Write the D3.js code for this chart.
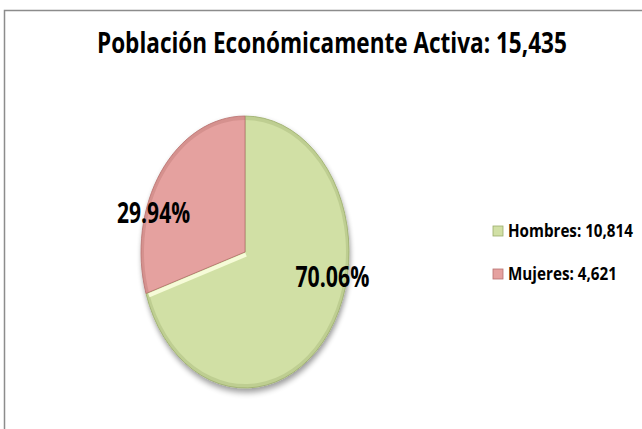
<!DOCTYPE html>
<html>
<head>
<meta charset="utf-8">
<script src="https://cdn.jsdelivr.net/npm/d3@7"></script>
<style>
  body { margin: 0; background: #fff; }
  svg { display: block; font-family: "Open Sans", "Liberation Sans", sans-serif; }
</style>
</head>
<body>
<div id="chart"></div>
<script>
const w = 642;
const h = 429;

const categories = ["Hombres", "Mujeres"];
const values = [10814, 4621];
const colors = ["#d1e0a5", "#e5a19f"];
const edgeColors = ["#9cad6c", "#b77270"];
const titleText = "Población Económicamente Activa";

const total = d3.sum(values);
const fmt = d3.format(",");
const pctFmt = d3.format(".2%");

// pie geometry (drawn as a circle, then stretched into the ellipse of the picture)
const cx = 245, cy = 252;
const r = 104;
const sy = 136 / 104;

let svg = d3.select("#chart").append("svg")
    .attr("width", w)
    .attr("height", h);

// the reference font is narrow, so squeeze each text to its width in the picture
function squeeze(node, x, y, width) {
    let sx = Math.min(1, width / node.getComputedTextLength());
    d3.select(node)
        .attr("x", 0).attr("y", 0)
        .attr("transform", `translate(${x},${y}) scale(${sx},1)`);
}

let defs = svg.append("defs");

let shadow = defs.append("filter")
    .attr("id", "shadow")
    .attr("x", "-20%").attr("y", "-20%")
    .attr("width", "140%").attr("height", "140%");
shadow.append("feGaussianBlur").attr("in", "SourceAlpha").attr("stdDeviation", 2.5).attr("result", "blur");
shadow.append("feOffset").attr("in", "blur").attr("dx", 1).attr("dy", 3).attr("result", "off");
shadow.append("feComponentTransfer").attr("in", "off").attr("result", "soft")
    .append("feFuncA").attr("type", "linear").attr("slope", 0.4);
let merge = shadow.append("feMerge");
merge.append("feMergeNode").attr("in", "soft");
merge.append("feMergeNode").attr("in", "SourceGraphic");

// chart border (only top and left visible in the picture)
svg.append("path")
    .attr("d", `M4.5,${h} V10.5 H${w}`)
    .attr("fill", "none")
    .attr("stroke", "#8c8c8c")
    .attr("stroke-width", 1.5);

let title = svg.append("text")
    .attr("font-size", 29)
    .attr("font-weight", 700)
    .attr("fill", "#000")
    .text(titleText + ": " + fmt(total));
squeeze(title.node(), 97, 53, 470);

let pie = d3.pie().sort(null).value(d => d);
let arcs = pie(values);

let arc = d3.arc().innerRadius(0).outerRadius(r);
let rim = d3.arc().innerRadius(r - 3).outerRadius(r);
let labelArc = d3.arc().innerRadius(r * 0.6).outerRadius(r * 0.6);

let pieG = svg.append("g")
    .attr("transform", `translate(${cx},${cy}) scale(1,${sy})`)
    .attr("filter", "url(#shadow)");

pieG.selectAll("path.slice")
    .data(arcs)
    .join("path")
    .attr("class", "slice")
    .attr("d", arc)
    .attr("fill", (d, i) => colors[i])
    .attr("stroke", (d, i) => edgeColors[i])
    .attr("stroke-width", 0.8)
    .attr("vector-effect", "non-scaling-stroke");

// soft bevel: darker rim along the outer edge
pieG.selectAll("path.rim")
    .data(arcs)
    .join("path")
    .attr("class", "rim")
    .attr("d", rim)
    .attr("fill", (d, i) => edgeColors[i])
    .attr("opacity", 0.35);

// light highlight along the green edge that meets the pink slice
let a = arcs[0].endAngle;
pieG.append("line")
    .attr("x1", 0).attr("y1", 0)
    .attr("x2", Math.sin(a) * (r - 2))
    .attr("y2", -Math.cos(a) * (r - 2))
    .attr("stroke", "#f6fbd8")
    .attr("stroke-width", 4)
    .attr("vector-effect", "non-scaling-stroke")
    .attr("transform", "translate(1,2)");

const labelNudge = [[37, -23], [-41, 9]];
const labelLength = [74, 73];

svg.selectAll("text.pct")
    .data(arcs)
    .join("text")
    .attr("class", "pct")
    .attr("text-anchor", "middle")
    .attr("font-size", 28)
    .attr("font-weight", 700)
    .attr("fill", "#000")
    .text(d => pctFmt(d.data / total))
    .each(function (d, i) {
        squeeze(this,
            cx + labelArc.centroid(d)[0] + labelNudge[i][0],
            cy + labelArc.centroid(d)[1] * sy + labelNudge[i][1] + 10,
            labelLength[i]);
    });

let legendY = d3.scalePoint().domain(categories).range([231, 274]);
const legendLength = [125, 109];

let legend = svg.selectAll("g.legend")
    .data(categories)
    .join("g")
    .attr("class", "legend")
    .attr("transform", d => `translate(493,${legendY(d)})`);

legend.append("rect")
    .attr("x", 0).attr("y", -5)
    .attr("width", 10).attr("height", 10)
    .attr("fill", (d, i) => colors[i])
    .attr("stroke", (d, i) => edgeColors[i])
    .attr("stroke-width", 0.8);

legend.append("text")
    .attr("font-size", 18.5)
    .attr("font-weight", 700)
    .attr("fill", "#000")
    .text((d, i) => d + ": " + fmt(values[i]))
    .each(function (d, i) {
        squeeze(this, 15, 6, legendLength[i]);
    });
</script>
</body>
</html>
